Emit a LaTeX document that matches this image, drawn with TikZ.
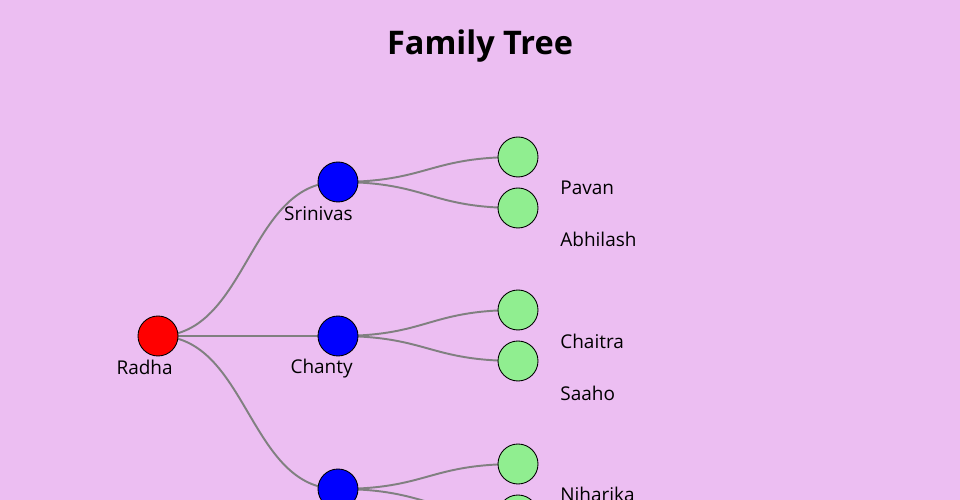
\documentclass[tikz,border=0pt]{standalone}
\usepackage{fontspec}
\setmainfont{Open Sans}
\definecolor{treebg}{RGB}{236,190,242}
\definecolor{leafgreen}{RGB}{144,238,144}
\tikzset{
  member/.style={circle, draw=black, line width=0.5pt, minimum size=0.8cm, inner sep=0pt},
  root/.style={member, fill=red},
  parent/.style={member, fill=blue},
  child/.style={member, fill=leafgreen},
  link/.style={draw=gray, line width=1.1pt},
  membername/.style={font=\fontsize{10.8}{13}\selectfont, inner sep=0pt}
}
\begin{document}
\begin{tikzpicture}
    % background and frame
    \useasboundingbox (0,0) rectangle (19.2,10);
    \clip (0,0) rectangle (19.2,10);
    \fill[treebg] (0,0) rectangle (19.2,10);

    % title
    \node[font=\bfseries\fontsize{18.5}{22}\selectfont] (title) at (9.6,9.08) {Family Tree};

    % positions of the members
    \coordinate (radha) at (3.16,3.28);
    \coordinate (srinivas) at (6.76,6.36);
    \coordinate (chanty) at (6.76,3.28);
    \coordinate (third) at (6.76,0.22);
    \coordinate (pavan) at (10.36,6.86);
    \coordinate (abhilash) at (10.36,5.84);
    \coordinate (chaitra) at (10.36,3.80);
    \coordinate (saaho) at (10.36,2.78);
    \coordinate (niharika) at (10.36,0.72);
    \coordinate (last) at (10.36,-0.30);

    % the links
    \draw[link] (radha) .. controls +(1.8,0) and +(-1.8,0) .. (srinivas);
    \draw[link] (radha) -- (chanty);
    \draw[link] (radha) .. controls +(1.8,0) and +(-1.8,0) .. (third);
    \draw[link] (srinivas) .. controls +(1.8,0) and +(-1.8,0) .. (pavan);
    \draw[link] (srinivas) .. controls +(1.8,0) and +(-1.8,0) .. (abhilash);
    \draw[link] (chanty) .. controls +(1.8,0) and +(-1.8,0) .. (chaitra);
    \draw[link] (chanty) .. controls +(1.8,0) and +(-1.8,0) .. (saaho);
    \draw[link] (third) .. controls +(1.8,0) and +(-1.8,0) .. (niharika);
    \draw[link] (third) .. controls +(1.8,0) and +(-1.8,0) .. (last);

    % the circles
    \node[root] (radha node) at (radha) {};
    \node[parent] (srinivas node) at (srinivas) {};
    \node[parent] (chanty node) at (chanty) {};
    \node[parent] (third node) at (third) {};
    \node[child] (pavan node) at (pavan) {};
    \node[child] (abhilash node) at (abhilash) {};
    \node[child] (chaitra node) at (chaitra) {};
    \node[child] (saaho node) at (saaho) {};
    \node[child] (niharika node) at (niharika) {};
    \node[child] (last node) at (last) {};

    % the names
    \node[membername, anchor=east] (radha name) at ([shift={(0.3,-0.63)}]radha) {Radha};
    \node[membername, anchor=east] (srinivas name) at ([shift={(0.3,-0.64)}]srinivas) {Srinivas};
    \node[membername, anchor=east] (chanty name) at ([shift={(0.3,-0.65)}]chanty) {Chanty};
    \node[membername, anchor=west] (pavan name) at ([shift={(0.84,-0.62)}]pavan) {Pavan};
    \node[membername, anchor=west] (abhilash name) at ([shift={(0.84,-0.62)}]abhilash) {Abhilash};
    \node[membername, anchor=west] (chaitra name) at ([shift={(0.84,-0.62)}]chaitra) {Chaitra};
    \node[membername, anchor=west] (saaho name) at ([shift={(0.84,-0.64)}]saaho) {Saaho};
    \node[membername, anchor=west] (niharika name) at ([shift={(0.84,-0.60)}]niharika) {Niharika};
\end{tikzpicture}
\end{document}
